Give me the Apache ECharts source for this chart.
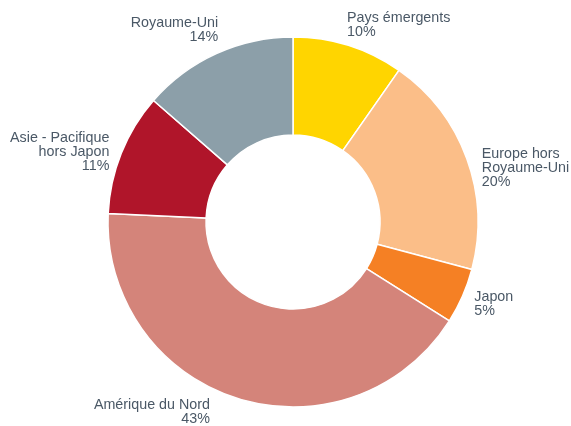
<!DOCTYPE html>
<html><head><meta charset="utf-8">
<script src="https://cdn.jsdelivr.net/npm/echarts@6/dist/echarts.min.js"></script>
<style>html,body{margin:0;padding:0;background:#fff}#c{width:571px;height:426px}</style>
</head><body><div id="c"></div>
<script>
var categories = ["Pays émergents", "Europe hors\nRoyaume-Uni", "Japon", "Amérique du Nord", "Asie - Pacifique\nhors Japon", "Royaume-Uni"];
var values = [10, 20, 5, 43, 11, 14];
var colors = ["#FFD500", "#FBBE88", "#F58024", "#D4847A", "#B0152A", "#8C9FA9"];
var labelOffsets = [[-6,-6],[1,15],[-2,2],[-23,-1],[2,4],[8,-10]];

var chart = echarts.init(document.getElementById('c'), null, {renderer: 'canvas'});
chart.setOption({
  animation: false,
  series: [{
    type: 'pie',
    center: [293, 222],
    radius: [87, 185],
    startAngle: 90,
    clockwise: true,
    avoidLabelOverlap: false,
    itemStyle: {borderColor: '#fff', borderWidth: 1.5},
    label: {
      show: true,
      position: 'outside',
      color: '#4a5866',
      fontFamily: 'Liberation Sans, Arial, sans-serif',
      fontSize: 14.3,
      lineHeight: 14,
      distanceToLabelLine: 0,
      formatter: function (p) { return p.name + '\n' + p.value + '%'; }
    },
    labelLine: {show: false, length: 15, length2: 0},
    data: categories.map(function (c, i) {
      return {name: c, value: values[i], itemStyle: {color: colors[i]}, label: {offset: labelOffsets[i]}};
    })
  }]
});
</script></body></html>
